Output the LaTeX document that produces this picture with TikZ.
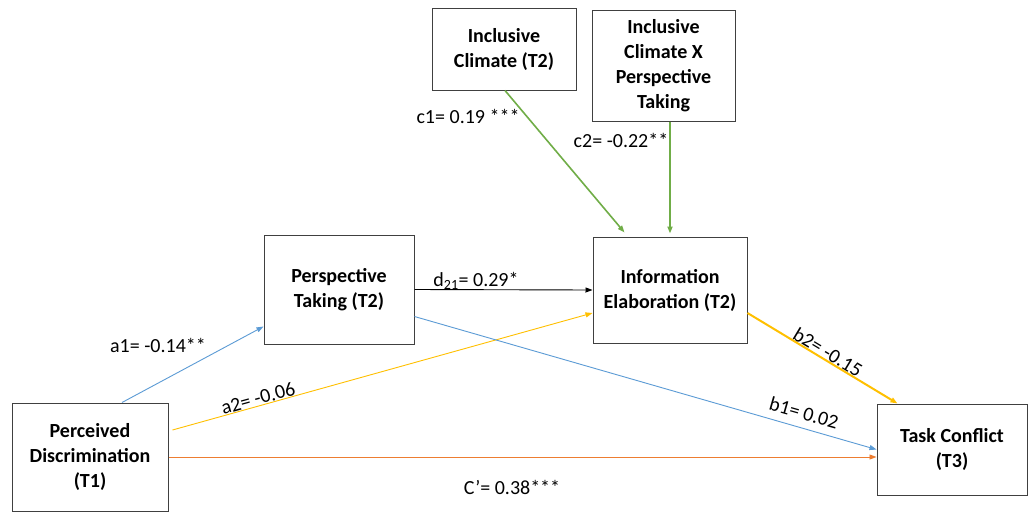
\documentclass[tikz,border=0pt]{standalone}
\usepackage{fontspec}
\setmainfont{Carlito}
\usetikzlibrary{arrows.meta}
\definecolor{pathblue}{HTML}{5B9BD5}
\definecolor{pathyellow}{HTML}{FFC000}
\definecolor{pathorange}{HTML}{ED7D31}
\definecolor{pathgreen}{HTML}{70AD47}
\begin{document}
\begin{tikzpicture}[x=1pt,y=-1pt,
  var/.style={draw=black!75,line width=1pt,fill=white,align=center,
    font=\fontsize{20}{25}\selectfont\bfseries,inner sep=2pt},
  lab/.style={font=\fontsize{20}{24}\selectfont,inner sep=0pt},
  path/.style={-{Triangle[length=7pt,width=5pt]},line width=0.9pt},
]
\useasboundingbox[fill=white] (0,0) rectangle (1029,512);

% variables
\node[var,minimum width=156pt,minimum height=108pt] (pd) at (90,457)
  {Perceived\\Discrimination\\(T1)};
\node[var,minimum width=150pt,minimum height=109pt] (pt) at (339,289.5)
  {Perspective\\Taking (T2)};
\node[var,minimum width=154pt,minimum height=106pt] (ie) at (670,290)
  {Information\\Elaboration (T2)};
\node[var,minimum width=150pt,minimum height=91pt] (tc) at (952,449.5)
  {Task Conflict\\(T3)};
\node[var,minimum width=144pt,minimum height=82pt] (ic) at (504,49)
  {Inclusive\\Climate (T2)};
\node[var,minimum width=143pt,minimum height=111pt] (icx) at (663.5,65.5)
  {Inclusive\\Climate X\\Perspective\\Taking};

% paths
\draw[path,pathblue] ([xshift=32pt]pd.north) -- ([yshift=18pt]pt.south west);
\draw[path,pathyellow] ([xshift=4pt,yshift=27pt]pd.east) -- ([yshift=-23pt]ie.west);
\draw[path,pathorange] (pd.east) -- (pd.east -| tc.west);
\draw[path,black] (pt.east) -- (ie.west);
\draw[path,pathblue] ([yshift=-27pt]pt.east) -- (tc.west);
\draw[path,pathyellow,line width=2pt] ([yshift=-23pt]ie.east) -- ([xshift=21pt]tc.north west);
\draw[path,pathgreen,line width=1.6pt] ([xshift=1pt]ic.south) -- ([xshift=32pt,yshift=4pt]ie.north west);
\draw[path,pathgreen,line width=2pt] (ie.north |- icx.south) -- ([yshift=3pt]ie.north);

% coefficients
\node[lab] (la1) at (158,345) {a1= -0.14**};
\node[lab,rotate=15.5] (la2) at (258,398) {a2= -0.06};
\node[lab] (lc) at (512,487) {C’= 0.38***};
\node[lab] (ld) at (476,281) {d\textsubscript{21}= 0.29*};
\node[lab,rotate=-16] (lb1) at (804,413) {b1= 0.02};
\node[lab,rotate=-31] (lb2) at (828,352) {b2= -0.15};
\node[lab] (lc1) at (468,116) {c1= 0.19 ***};
\node[lab] (lc2) at (621,140) {c2= -0.22**};
\end{tikzpicture}
\end{document}
